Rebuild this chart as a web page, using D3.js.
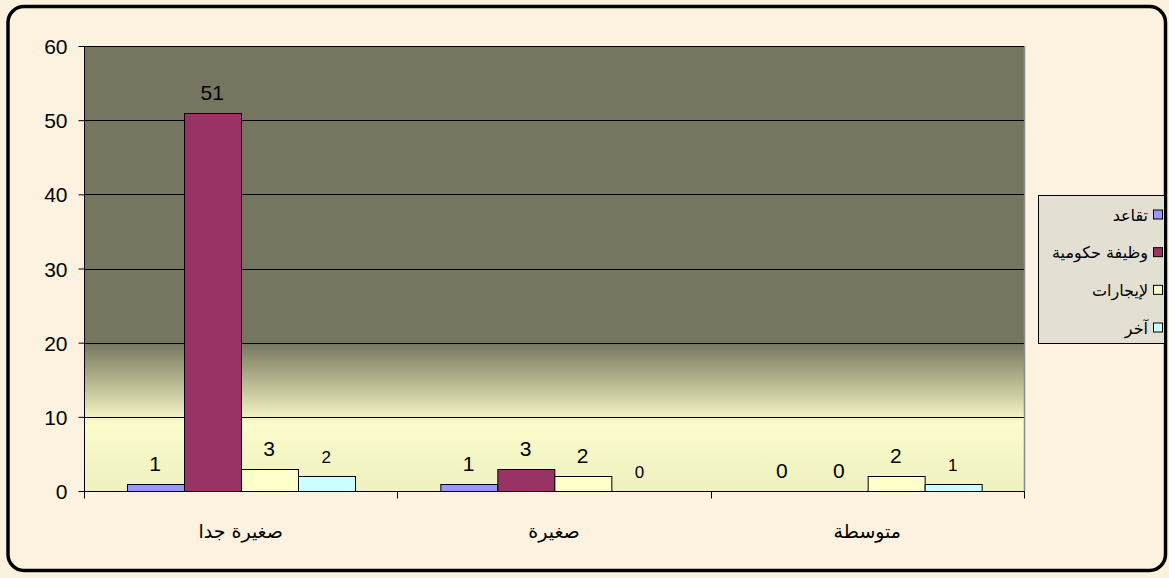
<!DOCTYPE html>
<html><head><meta charset="utf-8">
<script src="https://cdn.jsdelivr.net/npm/d3@7"></script>
<style>
html,body{margin:0;padding:0;background:#fbf1dd;}
svg{display:block;}
</style></head>
<body>
<svg id="chart" width="1169" height="578"></svg>
<script>
const categories = ["صغيرة جدا", "صغيرة", "متوسطة"];
const seriesNames = ["تقاعد", "وظيفة حكومية", "لإيجارات", "آخر"];
const seriesColors = ["#9999ff", "#993366", "#ffffcc", "#ccffff"];
const valsRetire = [1, 1, 0];
const valsGov = [51, 3, 0];
const valsRent = [3, 2, 2];
const valsOther = [2, 0, 1];
const yTicks = [0, 10, 20, 30, 40, 50, 60];

const seriesValues = [valsRetire, valsGov, valsRent, valsOther];
const svg = d3.select("#chart");
const plot = {l: 84, r: 1024, t: 46, b: 491};

const defs = svg.append("defs");
const grad = defs.append("linearGradient").attr("id", "bg")
  .attr("gradientUnits", "userSpaceOnUse")
  .attr("x1", 0).attr("x2", 0).attr("y1", plot.t).attr("y2", plot.b);
const y = d3.scaleLinear().domain([0, 60]).range([plot.b, plot.t]);
const frac = v => (y(v) - plot.t) / (plot.b - plot.t);
grad.append("stop").attr("offset", 0).attr("stop-color", "#767660");
grad.append("stop").attr("offset", frac(20)).attr("stop-color", "#767660");
grad.append("stop").attr("offset", frac(15)).attr("stop-color", "#b3b38e");
grad.append("stop").attr("offset", frac(10.3)).attr("stop-color", "#eeeebf");
grad.append("stop").attr("offset", frac(9)).attr("stop-color", "#fbfbcb");
grad.append("stop").attr("offset", 1).attr("stop-color", "#eff1c0");

// outer frame
svg.append("rect").attr("x", 8).attr("y", 6.5).attr("width", 1157.5).attr("height", 564)
  .attr("rx", 16).attr("fill", "#fcf2df").attr("stroke", "#000").attr("stroke-width", 3.5);

const x0 = d3.scaleBand().domain(categories).range([plot.l, plot.r]).paddingInner(0).paddingOuter(0);
const x1 = d3.scaleBand().domain(d3.range(4)).range([0, x0.bandwidth()]).paddingInner(0).paddingOuter(0.75);

// plot background
svg.append("rect").attr("x", plot.l).attr("y", plot.t).attr("width", plot.r - plot.l).attr("height", plot.b - plot.t)
  .attr("fill", "url(#bg)");
svg.append("line").attr("x1", plot.r + 0.5).attr("x2", plot.r + 0.5).attr("y1", plot.t).attr("y2", plot.b)
  .attr("stroke", "#8a8a8a").attr("stroke-width", 1.5);

// gridlines
svg.append("g").selectAll("line").data(yTicks.filter(d => d > 0)).join("line")
  .attr("x1", plot.l).attr("x2", plot.r)
  .attr("y1", d => Math.round(y(d)) + 0.5).attr("y2", d => Math.round(y(d)) + 0.5)
  .attr("stroke", "#000").attr("stroke-width", 1);

// bars
const groups = svg.append("g").selectAll("g").data(categories).join("g")
  .attr("transform", d => `translate(${x0(d)},0)`);
groups.each(function(cat, ci) {
  const g = d3.select(this);
  seriesValues.forEach((vals, si) => {
    const v = vals[ci];
    if (v > 0) {
      g.append("rect").attr("x", Math.round(x1(si)) + 0.5).attr("y", Math.round(y(v)) + 0.5)
        .attr("width", Math.round(x1.bandwidth())).attr("height", Math.round(y(0)) - Math.round(y(v)))
        .attr("fill", seriesColors[si]).attr("stroke", "#000").attr("stroke-width", 1);
    }
    g.append("text").attr("x", x1(si) + x1.bandwidth() / 2).attr("y", y(v) - 13)
      .attr("text-anchor", "middle")
      .attr("font-family", "'Liberation Sans', Arial, sans-serif")
      .attr("font-size", si === 3 ? 17 : 21)
      .attr("fill", "#000").text(v);
  });
});

// y axis
const yAxis = svg.append("g").attr("transform", `translate(${plot.l + 0.5},0)`)
  .call(d3.axisLeft(y).tickValues(yTicks).tickSize(6).tickPadding(11).tickFormat(d3.format("d")));
yAxis.select(".domain").attr("stroke", "#000").attr("d", `M0,${plot.t}V${plot.b + 6}`);
yAxis.selectAll(".tick line").attr("stroke", "#000");
yAxis.selectAll(".tick text").attr("font-family", "'Liberation Sans', Arial, sans-serif")
  .attr("font-size", 21).attr("fill", "#000").attr("dy", "0.36em");

// x axis
const xAxis = svg.append("g").attr("transform", `translate(0,${Math.round(y(0)) + 0.5})`);
xAxis.append("line").attr("x1", plot.l).attr("x2", plot.r + 1).attr("y1", 0).attr("y2", 0).attr("stroke", "#000");
const bounds = categories.map(c => x0(c)).concat([plot.r]);
xAxis.selectAll("line.tk").data(bounds).join("line").attr("class", "tk")
  .attr("x1", d => Math.round(d) + 0.5).attr("x2", d => Math.round(d) + 0.5)
  .attr("y1", 0).attr("y2", 7).attr("stroke", "#000");
xAxis.selectAll("text").data(categories).join("text")
  .attr("x", d => x0(d) + x0.bandwidth() / 2).attr("y", 46)
  .attr("text-anchor", "middle").attr("font-family", "'DejaVu Sans', sans-serif")
  .attr("font-size", 19).attr("fill", "#000").attr("direction", "rtl").text(d => d);

// legend
const leg = svg.append("g");
leg.append("rect").attr("x", 1038.5).attr("y", 195.5).attr("width", 126).attr("height", 148)
  .attr("fill", "#e3dfd3").attr("stroke", "#000").attr("stroke-width", 1);
const legY = d3.scalePoint().domain(d3.range(4)).range([214.5, 327.5]);
seriesNames.forEach((name, i) => {
  leg.append("rect").attr("x", 1153.5).attr("y", legY(i) - 4.5).attr("width", 9).attr("height", 9)
    .attr("fill", seriesColors[i]).attr("stroke", "#000").attr("stroke-width", 1);
  leg.append("text").attr("x", 1148).attr("y", legY(i) + 6)
    .attr("text-anchor", "start").attr("direction", "rtl")
    .attr("font-family", "'DejaVu Sans', sans-serif").attr("font-size", 16)
    .attr("fill", "#000").text(name);
});
</script>
</body></html>
